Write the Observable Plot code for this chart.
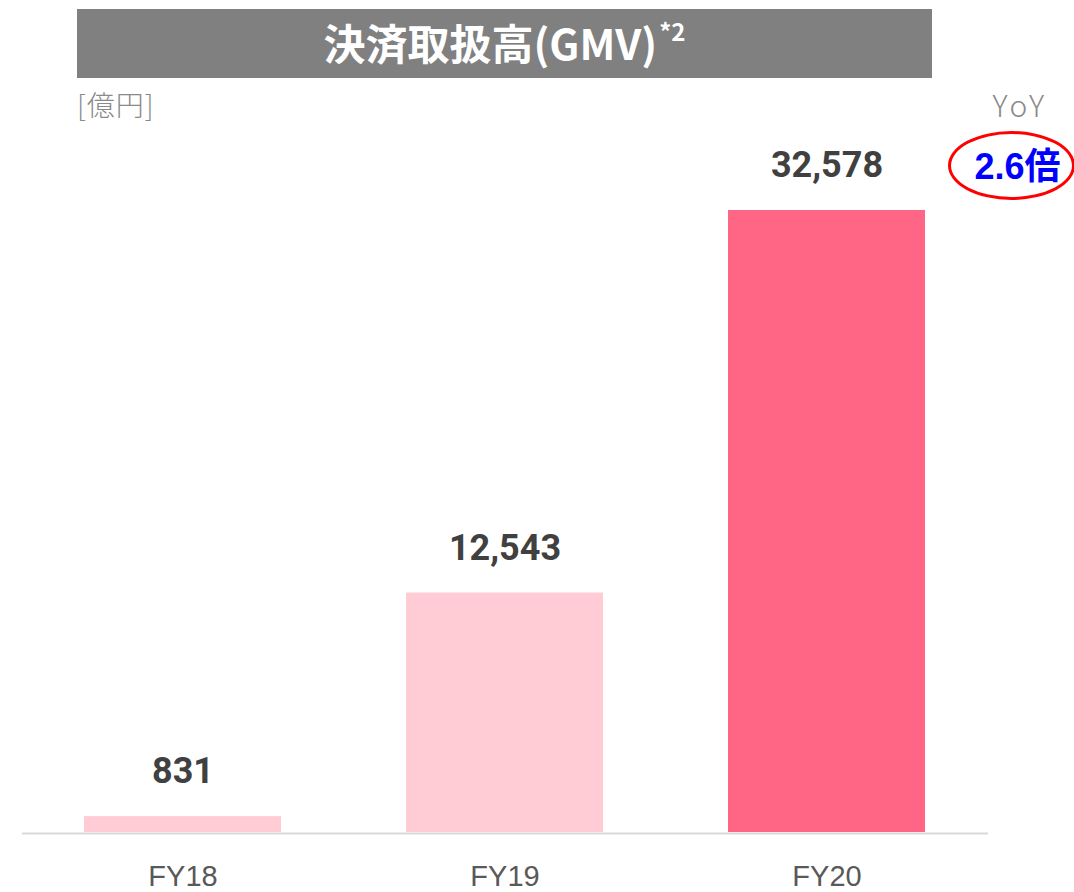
<!DOCTYPE html>
<html>
<head>
<meta charset="utf-8">
<script src="https://cdn.jsdelivr.net/npm/d3@7"></script>
<script src="https://cdn.jsdelivr.net/npm/@observablehq/plot@0.6"></script>
<style>
  html, body { margin: 0; padding: 0; background: #fff; }
  #wrap { position: relative; width: 1074px; height: 892px; overflow: hidden; font-family: "Liberation Sans", "Noto Sans CJK JP", sans-serif; }
  #chart { position: absolute; left: 0; top: 0; }
  .titlebar { position: absolute; left: 77px; top: 9px; width: 855px; height: 69px; background: #808080;
    color: #fff; font-weight: bold; font-size: 42px; display: flex; align-items: center; justify-content: center;
    font-family: "Noto Sans CJK JP", sans-serif; }
  .titlebar span { position: relative; top: -2px; }
  .titlebar sup { font-size: 24px; position: relative; top: -4px; margin-left: 2px; }
  .unit { position: absolute; left: 77px; top: 84px; font-size: 28px; color: #8a8a8a; font-family: "Noto Sans CJK JP", sans-serif; font-weight: 300; letter-spacing: 1px; }
  .yoy { position: absolute; right: 27px; top: 82px; font-size: 30px; color: #8a8a8a; font-family: "Noto Sans CJK JP", sans-serif; font-weight: 300; letter-spacing: 3px; }
  .ellipse { position: absolute; left: 948px; top: 131px; width: 121px; height: 63px; border: 3px solid #ff0000; border-radius: 50%; }
  .mult { position: absolute; left: 960px; top: 128px; width: 115px; height: 69px; display: flex; align-items: center; justify-content: center;
    color: #0000ff; font-weight: bold; font-size: 36px; font-family: "Liberation Sans", "Noto Sans CJK JP", sans-serif; }
</style>
</head>
<body>
<div id="wrap">
  <div id="chart"></div>
  <div class="titlebar"><span>決済取扱高(GMV)<sup>*2</sup></span></div>
  <div class="unit">[億円]</div>
  <div class="yoy">YoY</div>
  <div class="ellipse"></div>
  <div class="mult">2.6倍</div>
</div>
<script>
const years = ["FY18", "FY19", "FY20"];
const gmv = [831, 12543, 32578];
const barColors = ["#ffccd5", "#ffccd5", "#ff6685"];

const data = years.map((y, i) => ({ year: y, value: gmv[i], color: barColors[i] }));

const chart = Plot.plot({
  width: 1074,
  height: 892,
  marginLeft: 22,
  marginRight: 86,
  marginTop: 210,
  marginBottom: 60,
  style: { fontFamily: "'Liberation Sans', 'Noto Sans CJK JP', sans-serif", color: "#595959", background: "transparent", overflow: "visible" },
  x: { domain: years, paddingInner: 0.388, paddingOuter: 0.194, label: null },
  y: { domain: [0, d3.max(gmv)], axis: null },
  marks: [
    Plot.barY(data, { x: "year", y: "value", fill: "color" }),
    Plot.ruleY([0], { stroke: "#d9d9d9", strokeWidth: 2, dy: 1 }),
    Plot.text(data, { x: "year", y: "value", text: d => d3.format(",")(d.value), dy: -45, lineAnchor: "middle",
      fill: "#404040", fontSize: 36, fontWeight: "bold", fontFamily: "Roboto, 'Liberation Sans', sans-serif" }),
    Plot.axisX({ tickSize: 0, tickPadding: 33, fontSize: 29, fill: "#595959", label: null })
  ]
});
document.getElementById("chart").appendChild(chart);
</script>
</body>
</html>
